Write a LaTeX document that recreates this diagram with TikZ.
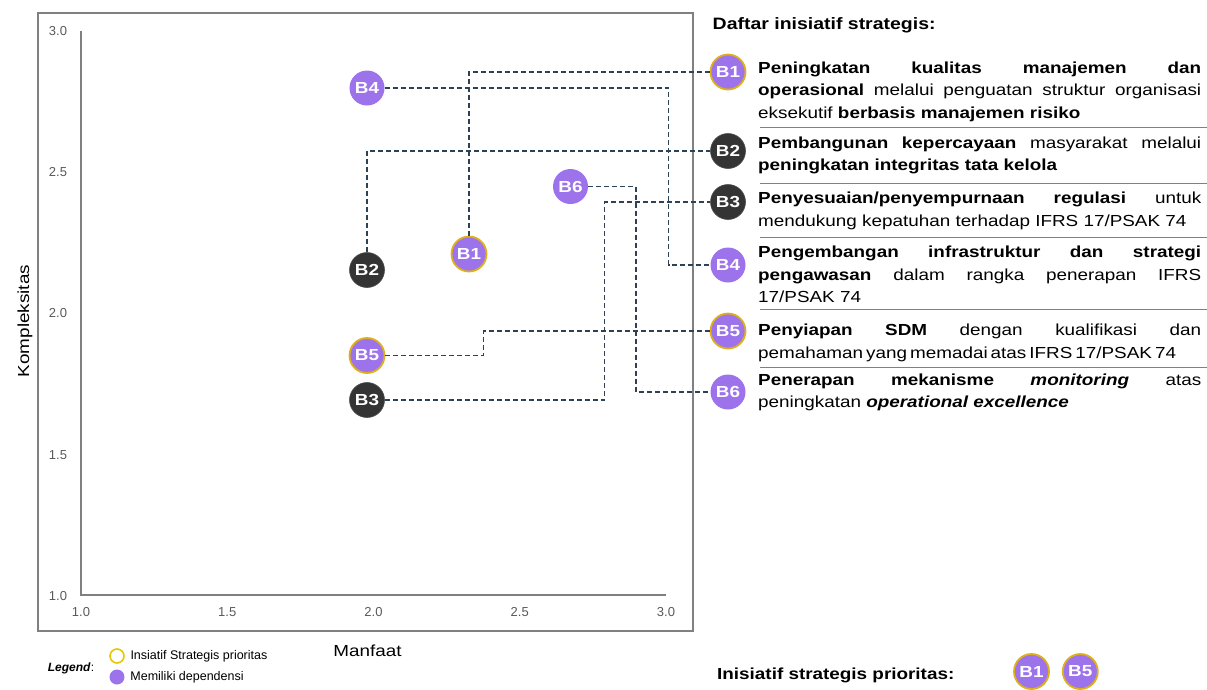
\documentclass[tikz,border=0pt]{standalone}
\usepackage{fontspec}
\setmainfont{Liberation Sans}[FakeStretch=1.18]
\newfontfamily\plainsans{Liberation Sans}
\usepackage{tikz}
\usetikzlibrary{positioning}
\usepackage{xcolor}
\definecolor{deppurple}{RGB}{157, 115, 236}
\definecolor{priogold}{RGB}{222, 176, 26}
\definecolor{legendgold}{RGB}{228, 200, 0}
\definecolor{bubbledark}{RGB}{52, 52, 52}
\definecolor{linkslate}{RGB}{46, 66, 86}
\definecolor{framegray}{RGB}{128, 128, 128}
\definecolor{tickgray}{RGB}{89, 89, 89}
\hyphenpenalty=10000
\exhyphenpenalty=10000

\begin{document}
\begin{tikzpicture}[x=1pt, y=-1pt,
    bub/.style={circle, minimum size=35pt, inner sep=0pt, text=white, font=\fontsize{16}{16}\selectfont\bfseries},
    purplebub/.style={bub, fill=deppurple},
    priobub/.style={bub, fill=deppurple, draw=priogold, line width=1.8pt},
    darkbub/.style={bub, fill=bubbledark, draw=black!70, line width=0.6pt},
    link/.style={draw=linkslate, line width=1.1pt, dash pattern=on 5pt off 3pt},
    itemtext/.style={anchor=base west, inner sep=0pt, text width=443pt, align=justify, font=\fontsize{16}{22.5}\selectfont},
    ticklabel/.style={inner sep=0pt, text=tickgray, font=\plainsans\fontsize{13}{14}\selectfont},
    legtext/.style={inner sep=0pt, font=\plainsans\fontsize{12.5}{14}\selectfont},
    sepline/.style={draw=framegray, line width=0.9pt}]
    \useasboundingbox (0,0) rectangle (1207,689);

    \draw[framegray, line width=1.2pt] (38,13) rectangle (693,631);
    \draw[framegray, line width=1.4pt] (81,31) -- (81,595) -- (666,595);
    \foreach \v [count=\i from 0] in {1.0,1.5,2.0,2.5,3.0} {
        \node[ticklabel] (xt\i) at (81+146.25*\i,612) {\v};
        \node[ticklabel] (yt\i) at (58,596-141.25*\i) {\v};
    }
    \node[rotate=90, font=\fontsize{16}{16}\selectfont] (ylab) at (25,321) {Kompleksitas};
    \node[anchor=base, inner sep=0pt, font=\fontsize{16}{16}\selectfont] (xlab) at (367.5,656.5) {Manfaat};

    \node[priobub] (p1) at (469,254) {B1};
    \node[darkbub] (p2) at (367,270) {B2};
    \node[darkbub] (p3) at (367,400) {B3};
    \node[purplebub] (p4) at (367,88) {B4};
    \node[priobub] (p5) at (367,355.5) {B5};
    \node[purplebub] (p6) at (570.5,186.5) {B6};

    \node[anchor=base west, inner sep=0pt, font=\fontsize{16.5}{18}\selectfont\bfseries] (title) at (712.5,29) {Daftar inisiatif strategis:};

    \node[priobub] (l1) at (728,72) {B1};
    \node[darkbub] (l2) at (728,151) {B2};
    \node[darkbub] (l3) at (728,202) {B3};
    \node[purplebub] (l4) at (728,265) {B4};
    \node[priobub] (l5) at (728,331) {B5};
    \node[purplebub] (l6) at (728,392) {B6};

    \node[itemtext] (t1) at (758,73) {\textbf{Peningkatan kualitas manajemen dan}\linebreak\textbf{operasional} melalui penguatan struktur organisasi\linebreak eksekutif \textbf{berbasis manajemen risiko}};
    \node[itemtext] (t2) at (758,148) {\textbf{Pembangunan kepercayaan} masyarakat melalui\linebreak\textbf{peningkatan integritas tata kelola}};
    \node[itemtext] (t3) at (758,203.5) {\textbf{Penyesuaian/penyempurnaan regulasi} untuk\linebreak mendukung kepatuhan terhadap IFRS 17/PSAK 74};
    \node[itemtext] (t4) at (758,257.5) {\textbf{Pengembangan infrastruktur dan strategi}\linebreak\textbf{pengawasan} dalam rangka penerapan IFRS\linebreak 17/PSAK 74};
    \node[itemtext] (t5) at (758,335.5) {\textbf{Penyiapan SDM} dengan kualifikasi dan\linebreak {\spaceskip=3pt plus 1pt minus 0.5pt\mbox{pemahaman yang memadai atas IFRS 17/PSAK 74}}};
    \node[itemtext] (t6) at (758,385) {\textbf{Penerapan mekanisme \textit{monitoring}} atas\linebreak peningkatan \textbf{\textit{operational excellence}}};

    \foreach \y in {127.7,183.3,237.7,309.3,367.3}
        \draw[sepline] (760,\y) -- (1207,\y);

    \draw[link] (p1.north) |- (l1.west);
    \draw[link] (p2.north) |- (l2.west);
    \draw[link] (p3.east) -| (604.5,202) -- (l3.west);
    \draw[link] (p4.east) -| (668.5,265) -- (l4.west);
    \draw[link] (p5.east) -| (483.5,331) -- (l5.west);
    \draw[link] (p6.east) -| (636,392) -- (l6.west);

    \node[anchor=base, inner sep=0pt, font=\plainsans\fontsize{12}{14}\selectfont] (legtitle) at (71,671) {\textbf{\textit{Legend}}:};
    \node[circle, draw=legendgold, line width=1.6pt, minimum size=14pt, inner sep=0pt] (legring) at (117,656) {};
    \node[circle, fill=deppurple, minimum size=15pt, inner sep=0pt] (legdot) at (117,677) {};
    \node[legtext, right=5.5pt of legring] (legprio) {Insiatif Strategis prioritas};
    \node[legtext, right=5.5pt of legdot] (legdep) {Memiliki dependensi};

    \node[anchor=base west, inner sep=0pt, font=\fontsize{16}{18}\selectfont\bfseries] (priolabel) at (717,679) {Inisiatif strategis prioritas:};
    \node[priobub] (pb1) at (1031.5,671.5) {B1};
    \node[priobub, right=12pt of pb1] (pb5) {B5};
\end{tikzpicture}
\end{document}
